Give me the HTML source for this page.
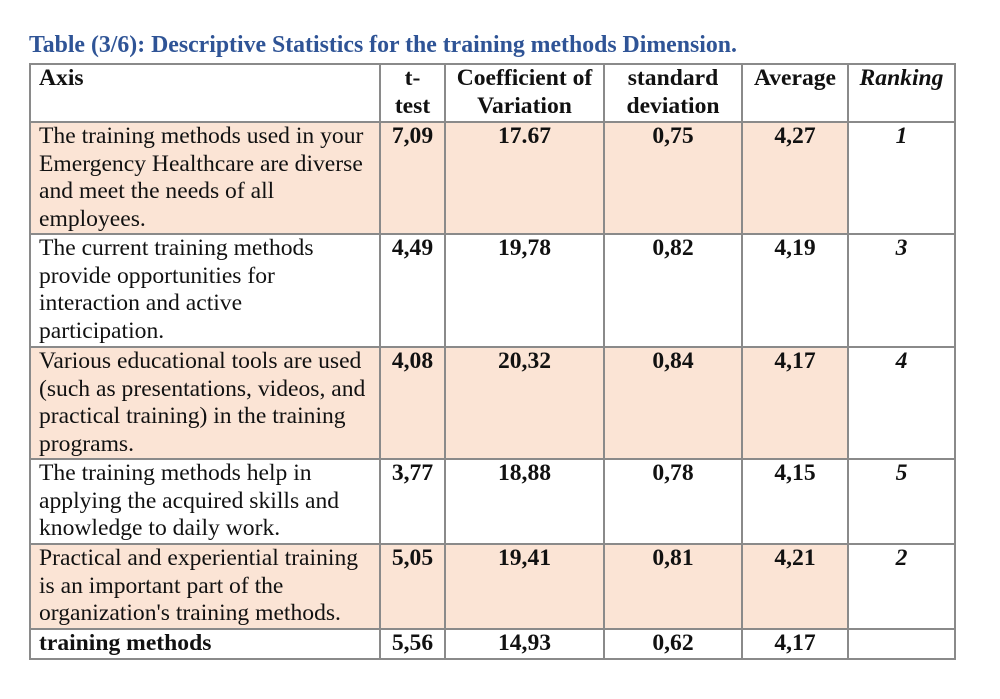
<!DOCTYPE html>
<html><head><meta charset="utf-8"><style>
body{margin:0;background:#fff;width:1000px;height:699px;overflow:hidden;font-family:"Liberation Serif",serif;}
.title{position:absolute;left:29px;top:32px;font-size:23.8px;font-weight:bold;color:#2f5496;white-space:nowrap;}
table{position:absolute;left:29px;top:63px;border-collapse:collapse;table-layout:fixed;width:925px;}
td{border:2px solid #8a8a8a;vertical-align:top;font-size:23.6px;line-height:27.5px;padding:0 0 0 8px;color:#111;white-space:nowrap;overflow:hidden;}
td.c{text-align:center;font-weight:bold;padding:0;}
td.r{text-align:center;font-weight:bold;font-style:italic;padding:0;background:#fff;}
tr.s td{background:#fbe4d5;}
tr.s td.r{background:#fff;}
</style></head><body>
<div class="title">Table (3/6): Descriptive Statistics for the training methods Dimension.</div>
<table>
<colgroup><col style="width:350px"><col style="width:65px"><col style="width:159px"><col style="width:138px"><col style="width:106px"><col style="width:107px"></colgroup>
<tr style="height:58px"><td style="font-weight:bold">Axis</td><td class="c">t-<br>test</td><td class="c">Coefficient of<br>Variation</td><td class="c">standard<br>deviation</td><td class="c">Average</td><td class="r">Ranking</td></tr>
<tr class="s" style="height:112px"><td>The training methods used in your<br>Emergency Healthcare are diverse<br>and meet the needs of all<br>employees.</td><td class="c">7,09</td><td class="c">17.67</td><td class="c">0,75</td><td class="c">4,27</td><td class="r">1</td></tr>
<tr style="height:113px"><td>The current training methods<br>provide opportunities for<br>interaction and active<br>participation.</td><td class="c">4,49</td><td class="c">19,78</td><td class="c">0,82</td><td class="c">4,19</td><td class="r">3</td></tr>
<tr class="s" style="height:112px"><td>Various educational tools are used<br>(such as presentations, videos, and<br>practical training) in the training<br>programs.</td><td class="c">4,08</td><td class="c">20,32</td><td class="c">0,84</td><td class="c">4,17</td><td class="r">4</td></tr>
<tr style="height:85px"><td>The training methods help in<br>applying the acquired skills and<br>knowledge to daily work.</td><td class="c">3,77</td><td class="c">18,88</td><td class="c">0,78</td><td class="c">4,15</td><td class="r">5</td></tr>
<tr class="s" style="height:85px"><td>Practical and experiential training<br>is an important part of the<br>organization's training methods.</td><td class="c">5,05</td><td class="c">19,41</td><td class="c">0,81</td><td class="c">4,21</td><td class="r">2</td></tr>
<tr style="height:29px"><td style="font-weight:bold">training methods</td><td class="c">5,56</td><td class="c">14,93</td><td class="c">0,62</td><td class="c">4,17</td><td class="r"></td></tr>
</table>
</body></html>
